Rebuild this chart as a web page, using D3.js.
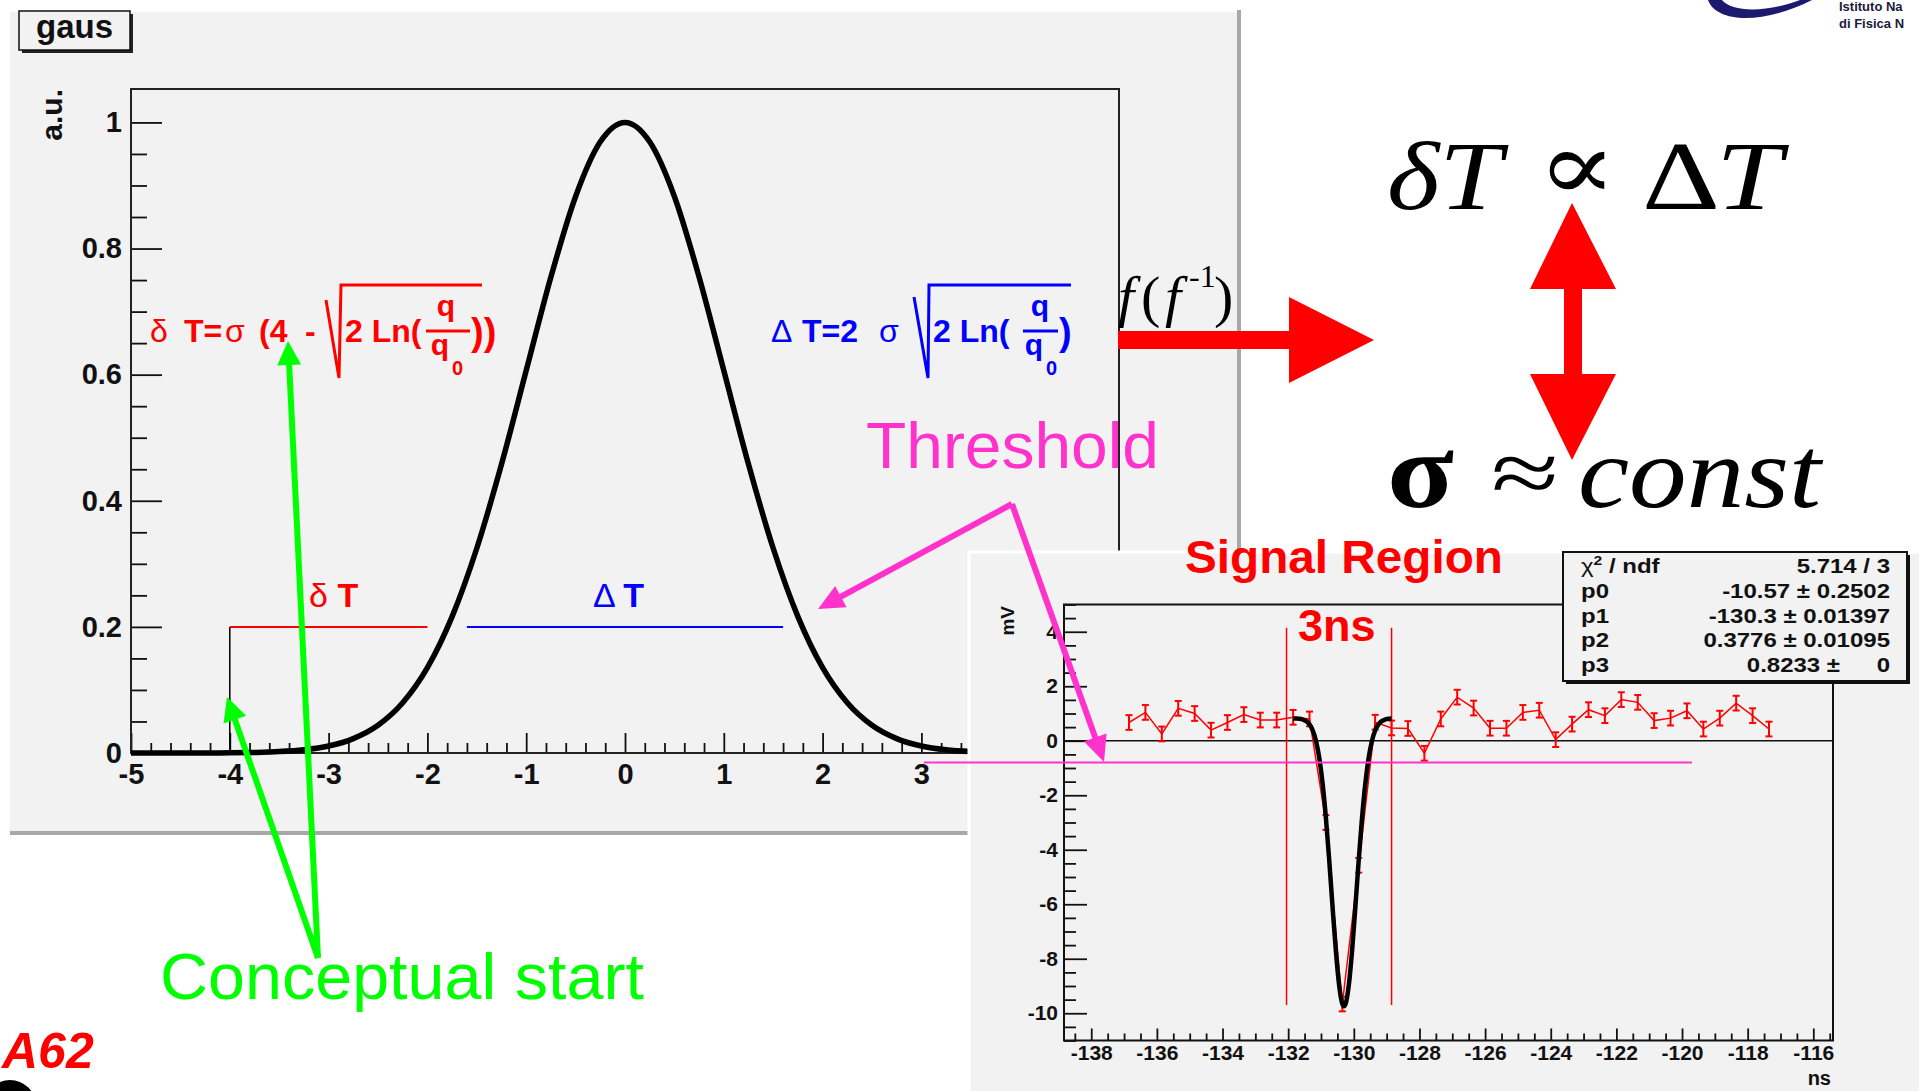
<!DOCTYPE html>
<html><head><meta charset="utf-8">
<script src="https://cdn.jsdelivr.net/npm/d3@7"></script>
<style>
body{margin:0;background:#fff;overflow:hidden;}
svg{display:block;}
</style></head><body>
<svg id="c" width="1919" height="1091" font-family='"Liberation Sans", Arial, sans-serif'></svg>
<script>
// ---------------- DATA ----------------
// main "gaus" plot
const gausX = [-5,-4.75,-4.5,-4.25,-4,-3.75,-3.5,-3.25,-3,-2.75,-2.5,-2.25,-2,-1.75,-1.5,-1.25,-1,-0.75,-0.5,-0.25,0,
               0.25,0.5,0.75,1,1.25,1.5,1.75,2,2.25,2.5,2.75,3,3.25,3.5,3.75,4,4.25,4.5,4.75,5];
const gausY = [0,0,0,0.0001,0.0003,0.0009,0.0022,0.0051,0.0111,0.0228,0.0439,0.0796,0.1353,0.2163,0.3247,0.4578,0.6065,0.7548,0.8825,0.9692,1,
               0.9692,0.8825,0.7548,0.6065,0.4578,0.3247,0.2163,0.1353,0.0796,0.0439,0.0228,0.0111,0.0051,0.0022,0.0009,0.0003,0.0001,0,0,0];
const mainXTicks = [-5,-4,-3,-2,-1,0,1,2,3,4,5];
const mainYTicks = [0,0.2,0.4,0.6,0.8,1];
const thresholdLevel = 0.2;
const smallDeltaRange = [-4,-2];
const bigDeltaRange = [-1.6,1.6];

// signal inset
const sigX = [-136.85,-136.35,-135.85,-135.35,-134.85,-134.35,-133.85,-133.35,-132.85,-132.35,
              -131.85,-131.35,-130.85,-130.35,-129.85,-129.35,-128.85,-128.35,-127.85,-127.35,
              -126.85,-126.35,-125.85,-125.35,-124.85,-124.35,-123.85,-123.35,-122.85,-122.35,
              -121.85,-121.35,-120.85,-120.35,-119.85,-119.35,-118.85,-118.35,-117.85,-117.35];
const sigY = [0.67,1.04,0.25,1.19,1.0,0.39,0.67,0.96,0.76,0.76,
              0.86,0.80,-3.0,-9.66,-4.57,0.68,0.47,0.45,-0.46,0.8,
              1.6,1.2,0.46,0.46,1.04,1.12,0.04,0.61,1.14,0.92,
              1.51,1.41,0.74,0.83,1.10,0.43,0.83,1.38,0.92,0.43];
const sigErr = 0.27;
const fitX = [-131.85,-131.75,-131.65,-131.55,-131.45,-131.35,-131.25,-131.15,-131.05,-130.95,-130.85,-130.75,-130.65,-130.55,-130.45,-130.35,
              -130.3,-130.25,-130.15,-130.05,-129.95,-129.85,-129.75,-129.65,-129.55,-129.45,-129.35,-129.25,-129.15,-129.05,-128.95,-128.85];
const fitY = [0.821,0.817,0.806,0.779,0.721,0.602,0.377,-0.015,-0.647,-1.580,-2.836,-4.373,-6.056,-7.667,-8.945,-9.655,
              -9.747,-9.655,-8.945,-7.667,-6.056,-4.373,-2.836,-1.580,-0.647,-0.015,0.377,0.602,0.721,0.779,0.806,0.817];
const insetXTicks = [-138,-136,-134,-132,-130,-128,-126,-124,-122,-120,-118,-116];
const insetYTicks = [-10,-8,-6,-4,-2,0,2,4];
const windowLines = [-132.05,-128.85];
const windowSpan = [4.15,-9.7];
const thresholdMv = -0.8;
const thresholdSpan = [-143.1,-119.7];
const statsLabels = ["χ", "p0", "p1", "p2", "p3"];
const statsValues = ["5.714 / 3", "-10.57 ± 0.2502", "-130.3 ± 0.01397", "0.3776 ± 0.01095", "0.8233 ±"];

// ---------------- DRAW ----------------
const svg = d3.select('#c');
const SANS = '"Liberation Sans", Arial, sans-serif';
const SERIF = '"Liberation Serif", "Times New Roman", "DejaVu Serif", serif';

function arrow(g, x1, y1, x2, y2, color, w, hl, hw) {
  const dx = x2 - x1, dy = y2 - y1, len = Math.hypot(dx, dy), ux = dx / len, uy = dy / len;
  const bx = x2 - ux * hl, by = y2 - uy * hl;
  g.append('line').attr('x1', x1).attr('y1', y1).attr('x2', bx + ux * 2).attr('y2', by + uy * 2)
    .attr('stroke', color).attr('stroke-width', w).attr('stroke-linecap', 'butt');
  g.append('polygon').attr('points', [[x2, y2], [bx - uy * hw / 2, by + ux * hw / 2], [bx + uy * hw / 2, by - ux * hw / 2]].map(p => p.join(',')).join(' '))
    .attr('fill', color);
}

// ===== Left panel =====
const L = svg.append('g');
L.append('rect').attr('x', 10).attr('y', 12).attr('width', 1229).attr('height', 820).attr('fill', '#f2f2f2');
L.append('rect').attr('x', 1237).attr('y', 10).attr('width', 4).attr('height', 825).attr('fill', '#a8a8a8');
L.append('rect').attr('x', 10).attr('y', 831).attr('width', 1231).attr('height', 4).attr('fill', '#a8a8a8');

// title box
L.append('rect').attr('x', 22).attr('y', 14).attr('width', 111).attr('height', 39).attr('fill', '#222');
L.append('rect').attr('x', 19).attr('y', 11).attr('width', 111).attr('height', 39).attr('fill', '#f2f2f2').attr('stroke', '#111').attr('stroke-width', 1.5);
L.append('text').attr('x', 36).attr('y', 38).attr('font-size', 33).attr('font-weight', 'bold').attr('fill', '#111').text('gaus');

const x = d3.scaleLinear().domain([-5, 5]).range([131, 1119]);
const y = d3.scaleLinear().domain([0, 1.053]).range([753, 89]);

function styleAxis(g, fs) {
  g.attr('font-family', SANS).attr('font-size', fs).attr('font-weight', 'bold');
  g.select('.domain').remove();
  g.selectAll('line').attr('stroke', '#111').attr('stroke-width', 1.8);
  g.selectAll('text').attr('fill', '#111');
}
const minorY = d3.range(0.05, 1.0, 0.05).filter(v => Math.abs(v * 5 - Math.round(v * 5)) > 1e-6);
const minorX = d3.range(-5, 5.001, 0.2).filter(v => Math.abs(v - Math.round(v)) > 1e-6);

styleAxis(L.append('g').attr('transform', 'translate(131,0)')
  .call(d3.axisLeft(y).tickValues(mainYTicks).tickSizeInner(-31).tickSizeOuter(0).tickPadding(9).tickFormat(d => String(d))), 29);
styleAxis(L.append('g').attr('transform', 'translate(131,0)')
  .call(d3.axisLeft(y).tickValues(minorY).tickSizeInner(-16).tickSizeOuter(0).tickFormat('')), 29);
styleAxis(L.append('g').attr('transform', 'translate(0,753)')
  .call(d3.axisBottom(x).tickValues(mainXTicks).tickSizeInner(-20).tickSizeOuter(0).tickPadding(10).tickFormat(d => String(d))), 29);
styleAxis(L.append('g').attr('transform', 'translate(0,753)')
  .call(d3.axisBottom(x).tickValues(minorX).tickSizeInner(-10).tickSizeOuter(0).tickFormat('')), 29);

L.append('rect').attr('x', 131).attr('y', 89).attr('width', 988).attr('height', 664)
  .attr('fill', 'none').attr('stroke', '#222').attr('stroke-width', 2);

L.append('text').attr('transform', 'translate(62,89) rotate(-90)').attr('text-anchor', 'end')
  .attr('font-size', 30).attr('font-weight', 'bold').attr('fill', '#111').text('a.u.');

// threshold segments
L.append('line').attr('x1', x(smallDeltaRange[0])).attr('x2', x(smallDeltaRange[0])).attr('y1', y(0)).attr('y2', y(thresholdLevel))
  .attr('stroke', '#000').attr('stroke-width', 1.5);
L.append('line').attr('x1', x(smallDeltaRange[0])).attr('x2', x(smallDeltaRange[1])).attr('y1', y(thresholdLevel)).attr('y2', y(thresholdLevel))
  .attr('stroke', '#ff0000').attr('stroke-width', 2);
L.append('line').attr('x1', x(bigDeltaRange[0])).attr('x2', x(bigDeltaRange[1])).attr('y1', y(thresholdLevel)).attr('y2', y(thresholdLevel))
  .attr('stroke', '#0000ff').attr('stroke-width', 2);

// gaussian curve
L.append('path').datum(d3.zip(gausX, gausY))
  .attr('d', d3.line().x(d => x(d[0])).y(d => y(d[1])).curve(d3.curveMonotoneX))
  .attr('fill', 'none').attr('stroke', '#000').attr('stroke-width', 5.5);

// δT / ΔT labels
const lab1 = L.append('text').attr('x', 309).attr('y', 607).attr('font-size', 34).attr('fill', '#ff0000');
lab1.append('tspan').text('δ ');
lab1.append('tspan').attr('font-weight', 'bold').text('T');
const lab2 = L.append('text').attr('x', 593).attr('y', 607).attr('font-size', 34).attr('fill', '#0000ff');
lab2.append('tspan').text('Δ ');
lab2.append('tspan').attr('font-weight', 'bold').text('T');

// formula helper
function formula(g, color, parts, rad, frac, close) {
  parts.forEach(p => g.append('text').attr('x', p[0]).attr('y', 342).attr('font-size', 32)
    .attr('font-weight', p[2] ? 'bold' : 'normal').attr('fill', color).text(p[1]));
  g.append('path').attr('d', rad).attr('fill', 'none').attr('stroke', color).attr('stroke-width', 3).attr('stroke-linejoin', 'miter');
  g.append('text').attr('x', frac.x0).attr('y', 342).attr('font-size', 32).attr('font-weight', 'bold').attr('fill', color).text('2 Ln(');
  g.append('text').attr('x', frac.cx).attr('y', 316).attr('text-anchor', 'middle').attr('font-size', 30).attr('font-weight', 'bold').attr('fill', color).text('q');
  g.append('line').attr('x1', frac.l1).attr('x2', frac.l2).attr('y1', 331).attr('y2', 331).attr('stroke', color).attr('stroke-width', 3);
  g.append('text').attr('x', frac.cx - 6).attr('y', 355).attr('text-anchor', 'middle').attr('font-size', 30).attr('font-weight', 'bold').attr('fill', color).text('q');
  g.append('text').attr('x', frac.cx + 6).attr('y', 375).attr('font-size', 20).attr('font-weight', 'bold').attr('fill', color).text('0');
  g.append('text').attr('x', close[0]).attr('y', 345).attr('font-size', 38).attr('font-weight', 'bold').attr('fill', color).text(close[1]);
}
formula(L, '#ff0000',
  [[150, 'δ', false], [184, 'T=', true], [225, 'σ', false], [259, '(4', true], [305, '-', true]],
  'M326,300 L339,378 L341,285 L482,285',
  {x0: 345, cx: 446, l1: 426, l2: 470}, [471, '))']);
formula(L, '#0000ff',
  [[771, 'Δ', false], [802, 'T=2', true], [879, 'σ', false]],
  'M914,297 L928,378 L929,285 L1071,285',
  {x0: 933, cx: 1040, l1: 1023, l2: 1058}, [1059, ')']);

// ===== Signal inset =====
const R = svg.append('g');
R.append('rect').attr('x', 969).attr('y', 552).attr('width', 960).attr('height', 560)
  .attr('fill', '#f2f2f2').attr('stroke', '#ffffff').attr('stroke-width', 3);

const xi = d3.scaleLinear().domain([-138.83, -115.4]).range([1064, 1833]);
const yi = d3.scaleLinear().domain([-11, 5]).range([1040.5, 604.5]);

const minorYi = d3.range(-11, 5.001, 0.5).filter(v => Math.abs(v / 2 - Math.round(v / 2)) > 1e-6);
const minorXi = d3.range(-138.5, -115.4, 0.5).filter(v => Math.abs(v / 2 - Math.round(v / 2)) > 1e-6);
styleAxis(R.append('g').attr('transform', 'translate(1064,0)')
  .call(d3.axisLeft(yi).tickValues(insetYTicks).tickSizeInner(-23).tickSizeOuter(0).tickPadding(6).tickFormat(d => String(d))), 21);
styleAxis(R.append('g').attr('transform', 'translate(1064,0)')
  .call(d3.axisLeft(yi).tickValues(minorYi).tickSizeInner(-12).tickSizeOuter(0).tickFormat('')), 21);
styleAxis(R.append('g').attr('transform', 'translate(0,1040.5)')
  .call(d3.axisBottom(xi).tickValues(insetXTicks).tickSizeInner(-12).tickSizeOuter(0).tickPadding(5).tickFormat(d => String(d))), 21);
styleAxis(R.append('g').attr('transform', 'translate(0,1040.5)')
  .call(d3.axisBottom(xi).tickValues(minorXi).tickSizeInner(-7).tickSizeOuter(0).tickFormat('')), 21);

R.append('rect').attr('x', 1064).attr('y', 604.5).attr('width', 769).attr('height', 436)
  .attr('fill', 'none').attr('stroke', '#111').attr('stroke-width', 2);
R.append('line').attr('x1', 1064).attr('x2', 1833).attr('y1', yi(0)).attr('y2', yi(0)).attr('stroke', '#111').attr('stroke-width', 1.6);

R.append('text').attr('transform', 'translate(1014,606) rotate(-90)').attr('text-anchor', 'end')
  .attr('font-size', 19).attr('font-weight', 'bold').attr('fill', '#111').text('mV');
R.append('text').attr('x', 1831).attr('y', 1085).attr('text-anchor', 'end')
  .attr('font-size', 20).attr('font-weight', 'bold').attr('fill', '#111').text('ns');

// window lines
windowLines.forEach(v => R.append('line').attr('x1', xi(v)).attr('x2', xi(v)).attr('y1', yi(windowSpan[0])).attr('y2', yi(windowSpan[1]))
  .attr('stroke', '#ff0000').attr('stroke-width', 1.5));

// data polyline + error bars
const pts = d3.zip(sigX, sigY);
R.append('path').datum(pts).attr('d', d3.line().x(d => xi(d[0])).y(d => yi(d[1])))
  .attr('fill', 'none').attr('stroke', '#ff0000').attr('stroke-width', 1.5);
const eb = R.append('g').attr('stroke', '#ff0000').attr('stroke-width', 2);
pts.forEach(d => {
  const cx = xi(d[0]), y1 = yi(d[1] + sigErr), y2 = yi(d[1] - sigErr);
  eb.append('line').attr('x1', cx).attr('x2', cx).attr('y1', y1).attr('y2', y2);
  eb.append('line').attr('x1', cx - 3.5).attr('x2', cx + 3.5).attr('y1', y1).attr('y2', y1);
  eb.append('line').attr('x1', cx - 3.5).attr('x2', cx + 3.5).attr('y1', y2).attr('y2', y2);
});

// fit curve
R.append('path').datum(d3.zip(fitX, fitY))
  .attr('d', d3.line().x(d => xi(d[0])).y(d => yi(d[1])).curve(d3.curveMonotoneX))
  .attr('fill', 'none').attr('stroke', '#000').attr('stroke-width', 4.5);

// stats box
R.append('rect').attr('x', 1566).attr('y', 555).attr('width', 344).attr('height', 129).attr('fill', '#111');
R.append('rect').attr('x', 1563).attr('y', 552).attr('width', 344).attr('height', 129)
  .attr('fill', '#f2f2f2').attr('stroke', '#111').attr('stroke-width', 2);
const rowsY = [573, 598, 623, 647, 672];
statsLabels.forEach((s, i) => {
  const t = R.append('text').attr('transform', `translate(1581,${rowsY[i]}) scale(1.2,1)`)
    .attr('font-size', 20).attr('font-weight', i === 0 ? 'normal' : 'bold').attr('fill', '#111');
  if (i === 0) {
    t.append('tspan').text('χ');
    t.append('tspan').attr('font-size', 13).attr('font-weight', 'bold').attr('dy', -8).text('2');
    t.append('tspan').attr('font-weight', 'bold').attr('dy', 8).text(' / ndf');
  } else t.text(s);
});
statsValues.forEach((s, i) => {
  R.append('text').attr('transform', `translate(${i === 4 ? 1840 : 1890},${rowsY[i]}) scale(1.2,1)`)
    .attr('text-anchor', 'end').attr('font-size', 20).attr('font-weight', 'bold').attr('fill', '#111').text(s);
});
R.append('text').attr('transform', `translate(1890,${rowsY[4]}) scale(1.2,1)`)
  .attr('text-anchor', 'end').attr('font-size', 20).attr('font-weight', 'bold').attr('fill', '#111').text('0');

// ===== Annotations =====
const A = svg.append('g');
// threshold line
A.append('line').attr('x1', xi(thresholdSpan[0])).attr('x2', xi(thresholdSpan[1])).attr('y1', yi(thresholdMv)).attr('y2', yi(thresholdMv))
  .attr('stroke', '#ff33cc').attr('stroke-width', 2);
A.append('text').attr('x', 866).attr('y', 468).attr('font-size', 65).attr('fill', '#ff33cc')
  .attr('textLength', 293).attr('lengthAdjust', 'spacingAndGlyphs').text('Threshold');
arrow(A, 1012, 504, 818, 609, '#ff33cc', 6, 26, 24);
arrow(A, 1012, 504, 1104, 762, '#ff33cc', 6, 26, 24);

// green arrows
arrow(A, 318, 958, 288, 341, '#00ff00', 6, 24, 24);
arrow(A, 318, 958, 227, 697, '#00ff00', 6, 24, 24);
A.append('text').attr('x', 160).attr('y', 999).attr('font-size', 64).attr('fill', '#00ff00')
  .attr('textLength', 484).attr('lengthAdjust', 'spacingAndGlyphs').text('Conceptual start');

// Signal Region / 3ns
A.append('text').attr('x', 1185).attr('y', 573).attr('font-size', 47).attr('font-weight', 'bold').attr('fill', '#ff0000')
  .attr('textLength', 318).attr('lengthAdjust', 'spacingAndGlyphs').text('Signal Region');
A.append('text').attr('x', 1298).attr('y', 641).attr('font-size', 45).attr('font-weight', 'bold').attr('fill', '#ff0000').text('3ns');

// f(f^-1) and big red arrow
const ff = [[1118, 'f', true, 58, 316], [1141, '(', false, 58, 316], [1165, 'f', true, 58, 316], [1189, '-1', false, 32, 287], [1214, ')', false, 58, 316]];
ff.forEach(p => A.append('text').attr('x', p[0]).attr('y', p[4]).attr('font-family', SERIF)
  .attr('font-style', p[2] ? 'italic' : 'normal').attr('font-size', p[3]).attr('fill', '#000').text(p[1]));
A.append('polygon').attr('points', '1118,331 1289,331 1289,297 1374,340 1289,383 1289,349 1118,349').attr('fill', '#ff0000');

// big formulas
A.append('text').attr('x', 1387).attr('y', 209).attr('font-family', SERIF).attr('font-style', 'italic').attr('font-size', 98)
  .attr('textLength', 115).attr('lengthAdjust', 'spacingAndGlyphs').attr('fill', '#000').text('δT');
A.append('text').attr('x', 1537).attr('y', 200).attr('font-family', SERIF).attr('font-size', 98)
  .attr('textLength', 80).attr('lengthAdjust', 'spacingAndGlyphs').attr('fill', '#000').text('∝');
A.append('text').attr('x', 1642).attr('y', 209).attr('font-family', SERIF).attr('font-size', 98)
  .attr('textLength', 78).attr('lengthAdjust', 'spacingAndGlyphs').attr('fill', '#000').text('Δ');
A.append('text').attr('x', 1716).attr('y', 209).attr('font-family', SERIF).attr('font-style', 'italic').attr('font-size', 98)
  .attr('textLength', 66).attr('lengthAdjust', 'spacingAndGlyphs').attr('fill', '#000').text('T');
A.append('text').attr('x', 1387).attr('y', 507).attr('font-family', SERIF).attr('font-weight', 'bold').attr('font-size', 108)
  .attr('textLength', 67).attr('lengthAdjust', 'spacingAndGlyphs').attr('fill', '#000').text('σ');
A.append('text').attr('x', 1491).attr('y', 503).attr('font-family', SERIF).attr('font-size', 90)
  .attr('textLength', 68).attr('lengthAdjust', 'spacingAndGlyphs').attr('fill', '#000').text('≈');
A.append('text').attr('x', 1578).attr('y', 507).attr('font-family', SERIF).attr('font-style', 'italic').attr('font-size', 102)
  .attr('textLength', 243).attr('lengthAdjust', 'spacingAndGlyphs').attr('fill', '#000').text('const');
// double arrow
A.append('polygon').attr('points', '1572,203 1616,289 1582,289 1582,374 1616,374 1572,460 1530,374 1564,374 1564,289 1530,289')
  .attr('fill', '#ff0000');

// logo fragment
A.append('path').attr('d', 'M1708,0 C1716,22 1760,26 1812,0 L1800,0 C1765,13 1732,12 1722,0 Z').attr('fill', '#1c1a6e');
A.append('text').attr('x', 1839).attr('y', 11).attr('font-size', 13).attr('font-weight', 'bold').attr('fill', '#1a1a3a').text('Istituto Na');
A.append('text').attr('x', 1839).attr('y', 28).attr('font-size', 13).attr('font-weight', 'bold').attr('fill', '#1a1a3a').text('di Fisica N');

// bottom-left fragments
A.append('text').attr('x', 2).attr('y', 1068).attr('font-size', 50).attr('font-weight', 'bold')
  .attr('font-style', 'italic').attr('fill', '#ff0000').text('A62');
A.append('circle').attr('cx', 10).attr('cy', 1106).attr('r', 26).attr('fill', '#000');
</script>
</body></html>
